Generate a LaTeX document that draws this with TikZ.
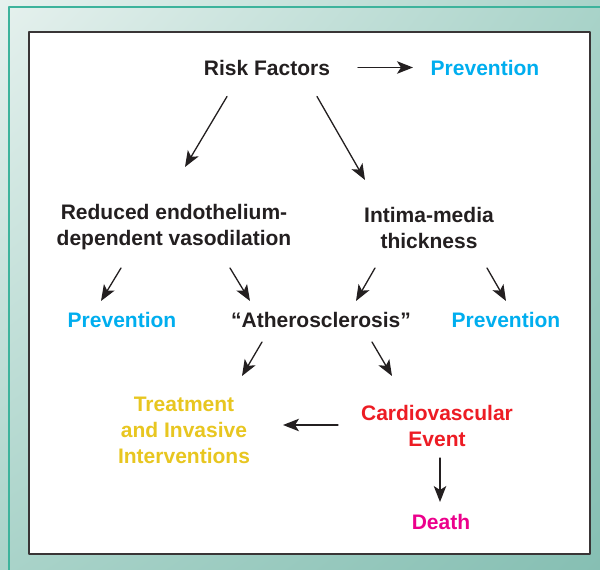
\documentclass[tikz,border=0pt]{standalone}
\usepackage{fontspec}
\setmainfont{Liberation Sans}
\usetikzlibrary{arrows.meta, calc, shadings}
\definecolor{ink}{HTML}{231F20}
\definecolor{prevcyan}{HTML}{00AEEF}
\definecolor{treatyel}{HTML}{E8C620}
\definecolor{eventred}{HTML}{ED1C24}
\definecolor{deathmag}{HTML}{EC008C}
\definecolor{tealline}{HTML}{3DB39C}
\definecolor{bglight}{HTML}{E6F1EE}
\definecolor{bgmid}{HTML}{A9D3C9}
\definecolor{bgdark}{HTML}{86BFB3}
\tikzset{lbl/.style={font=\bfseries\fontsize{21}{26}\selectfont, inner sep=0pt, align=center, text=ink},
  arr/.style={ink, line width=1.3pt, -{Stealth[length=16pt, width=12.5pt, inset=4pt]}}}

\begin{document}
\begin{tikzpicture}[x=1pt, y=-1pt, line cap=round, line join=round]
  \useasboundingbox (0,0) rectangle (600,570);
  \shade[upper left=bglight, upper right=bgmid, lower left=bgmid, lower right=bgdark] (0,0) rectangle (600,570);
  \draw[tealline, line width=1.5pt] (9,570) -- (9,7) -- (600,7);
  \draw[ink!90, line width=1.3pt, fill=white] (29,32) rectangle (590,554);

  \node[lbl] (rf) at (267,67.5) {Risk Factors};
  \node[lbl, text=prevcyan] (pt) at (485,67.5) {Prevention};
  \node[lbl] (red) at (174,227) {Reduced endothelium-\\dependent vasodilation};
  \node[lbl] (imt) at (429,228) {Intima-media\\thickness};
  \node[lbl, text=prevcyan] (pl) at (122,320) {Prevention};
  \node[lbl] (ath) at (321,320) {“Atherosclerosis”};
  \node[lbl, text=prevcyan] (pr) at (506,320) {Prevention};
  \node[lbl, text=treatyel] (trt) at (184,430) {Treatment\\and Invasive\\Interventions};
  \node[lbl, text=eventred] (cve) at (437,426) {Cardiovascular\\Event};
  \node[lbl, text=deathmag] (dth) at (441,522) {Death};

  \draw[arr] ($(rf)+(91,0)$) -- ($(pt)+(-72,0)$);
  \draw[arr] ($(rf)+(-40,29)$) -- ($(red)+(11,-60)$);
  \draw[arr] ($(rf)+(50,29)$) -- ($(imt)+(-64,-48)$);
  \draw[arr] ($(red)+(-53,41)$) -- ($(pl)+(-21,-19)$);
  \draw[arr] ($(red)+(56,41)$) -- ($(ath)+(-71,-19)$);
  \draw[arr] ($(imt)+(-54,40)$) -- ($(ath)+(35,-19)$);
  \draw[arr] ($(imt)+(58,40)$) -- ($(pr)+(0,-19)$);
  \draw[arr] ($(ath)+(-59,22)$) -- ($(trt)+(58,-54)$);
  \draw[arr] ($(ath)+(51,22)$) -- ($(cve)+(-45,-50)$);
  \draw[arr] ($(cve)+(-99,-1)$) -- ($(trt)+(99,-5)$);
  \draw[arr] ($(cve)+(3,32)$) -- ($(dth)+(-1,-20)$);
\end{tikzpicture}
\end{document}
